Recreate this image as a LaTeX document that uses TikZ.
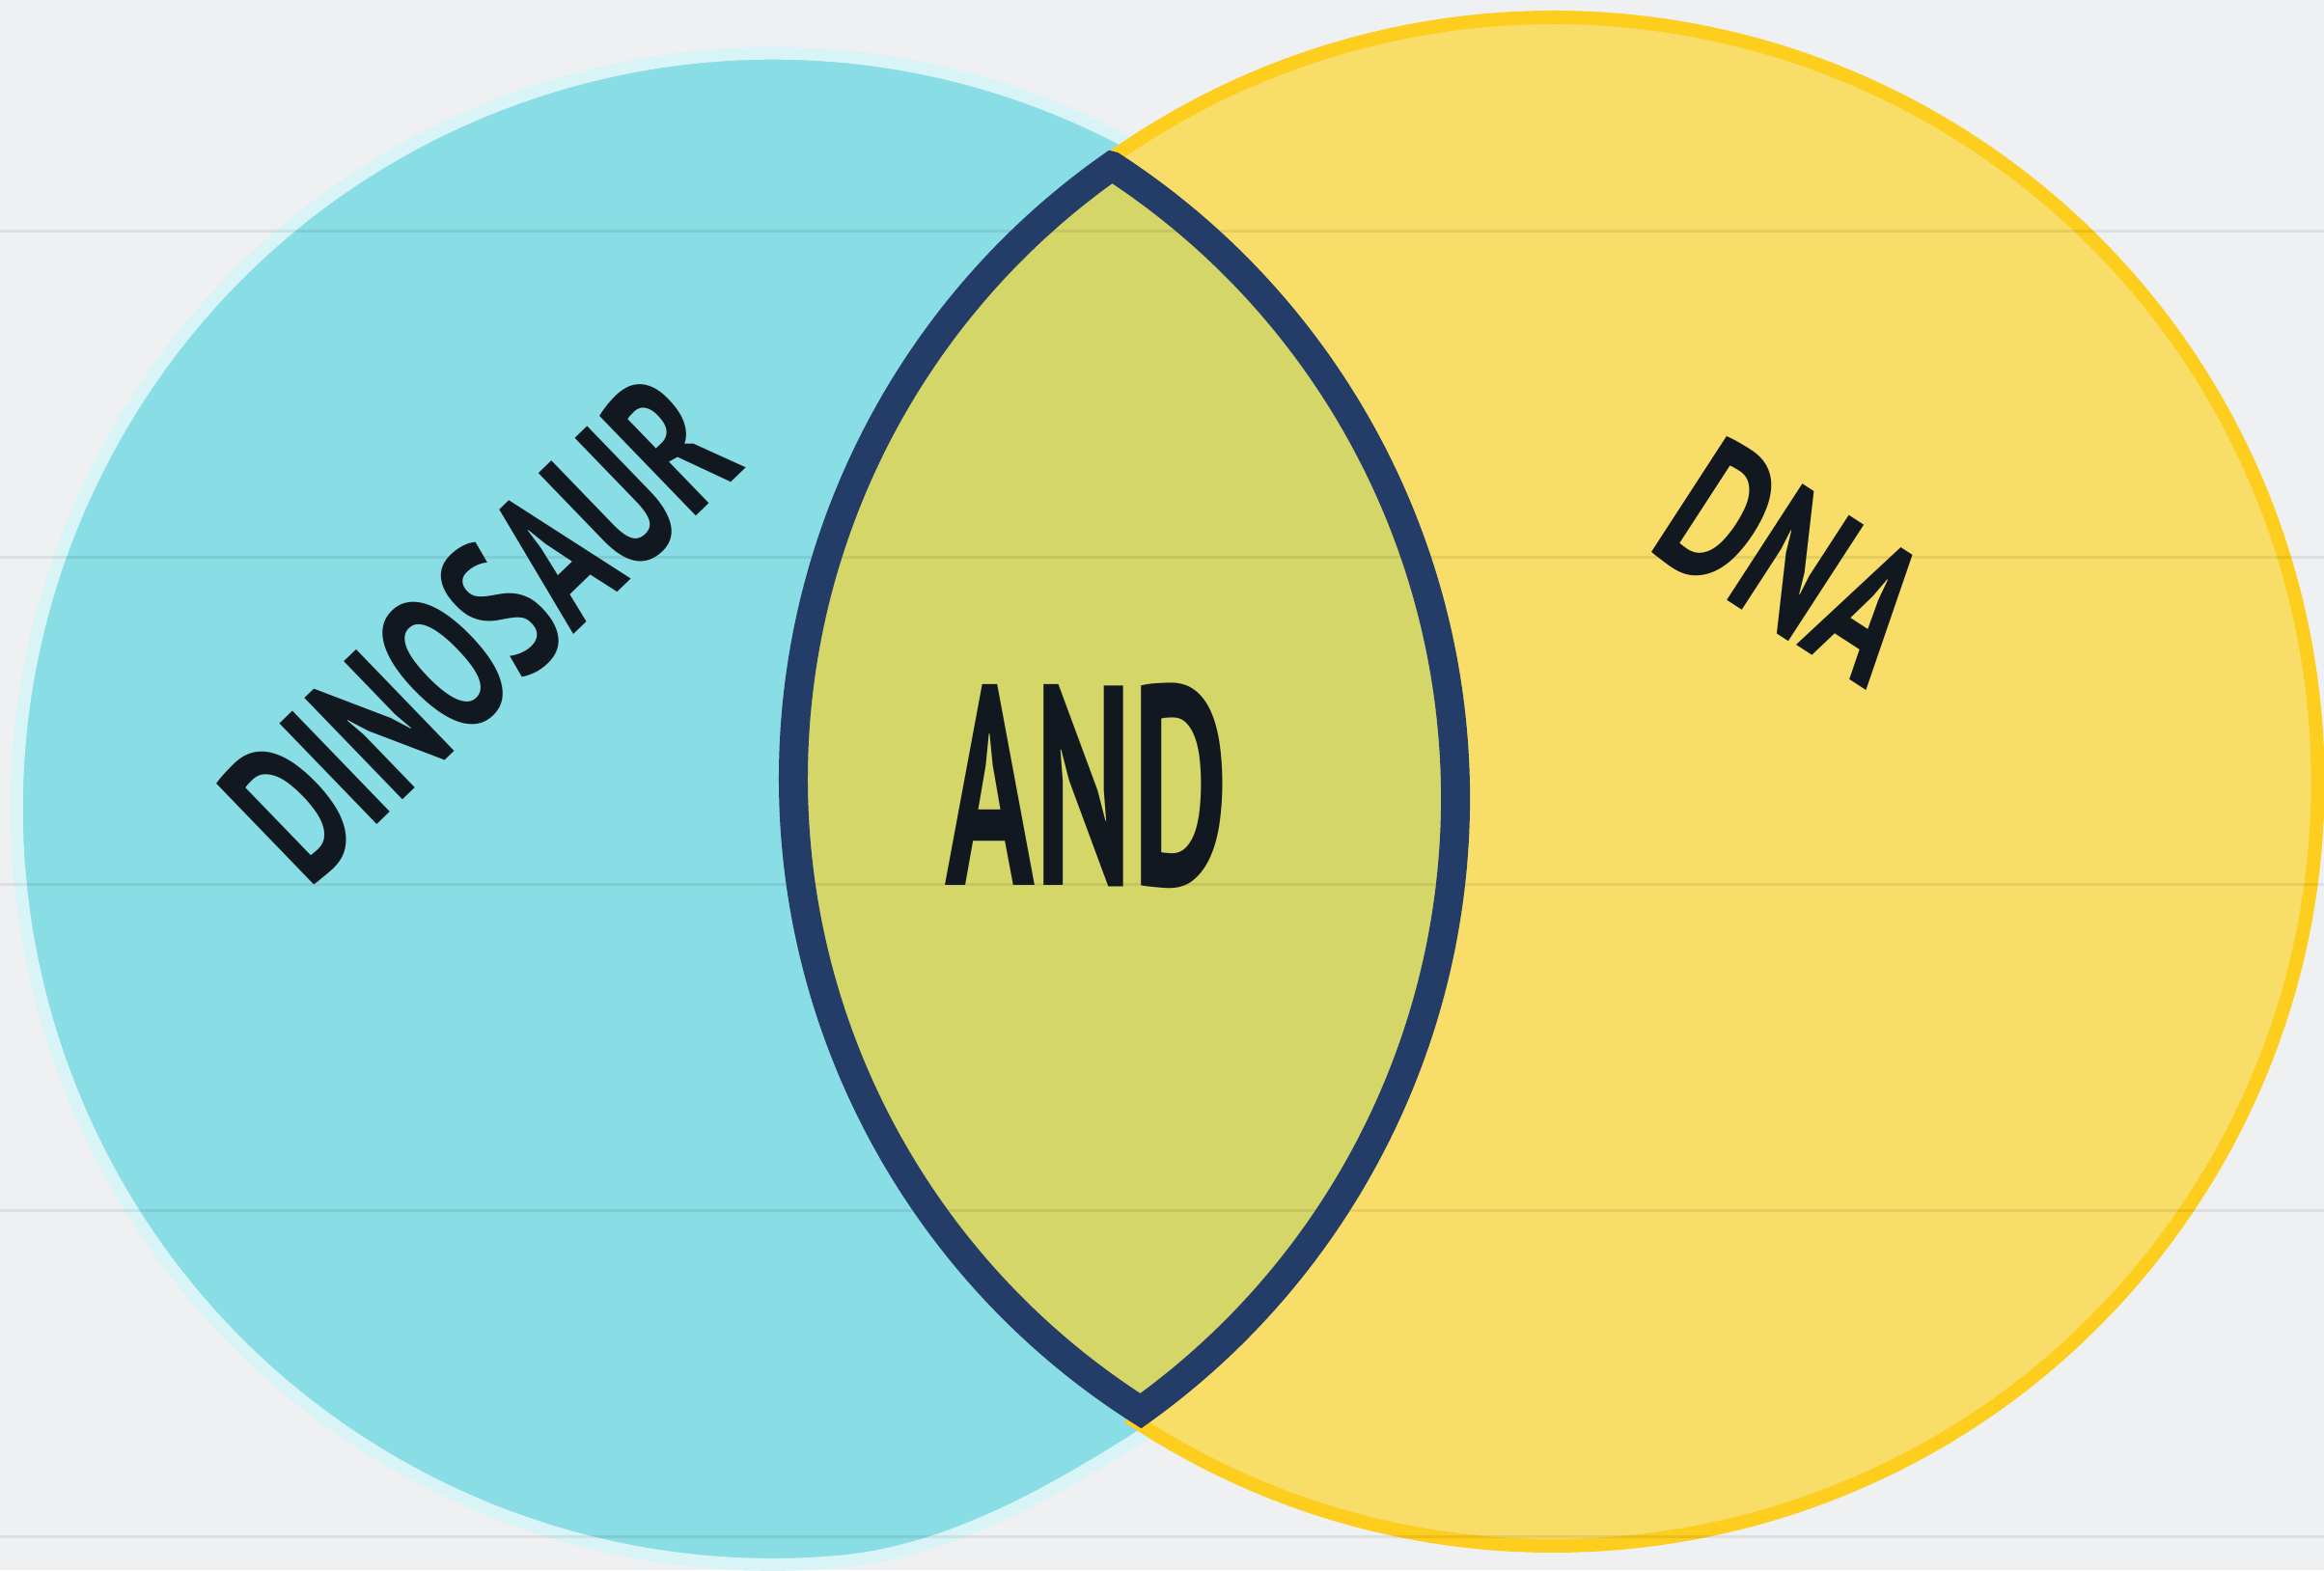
\documentclass[tikz,border=0pt]{standalone}
\usepackage{fontspec}
\setmainfont{PT Sans}
\usepackage{graphicx}
\definecolor{bgc}{HTML}{EEF0F2}
\definecolor{cyanfill}{HTML}{89DDE4}
\definecolor{cyanline}{HTML}{D8F4F7}
\definecolor{yelfill}{HTML}{F8DD68}
\definecolor{yelline}{HTML}{FDCE1E}
\definecolor{lensfill}{HTML}{D5D668}
\definecolor{navy}{HTML}{243C68}
\definecolor{ink}{HTML}{111820}
\tikzset{
  leftset/.style={fill=cyanfill, draw=cyanline, line width=0.13cm},
  rightset/.style={fill=yelfill, draw=yelline, line width=0.14cm},
  lensarea/.style={fill=lensfill},
  lensedge/.style={draw=navy, line width=0.30cm, line join=miter, miter limit=20},
  ruling/.style={draw=black, draw opacity=0.07, line width=0.03cm},
  label/.style={text=ink, inner sep=0pt, font=\bfseries}
}
\begin{document}
\begin{tikzpicture}
\useasboundingbox (0,0) rectangle (24.08,16.27);
\clip (0,0) rectangle (24.08,16.27);
\fill[bgc] (0,0) rectangle (24.08,16.27);
% left set (cyan)
\path[leftset] (11.68,14.80) arc[start angle=62, end angle=275, radius=7.83]
  .. controls (9.88,0.19) and (11.00,0.87) .. (11.84,1.40)
  -- (15.00,8.00) -- cycle;
% right set (yellow)
\path[rightset] (11.52,14.55) arc[start angle=125.08, end angle=237.58, radius=7.76]
  -- (11.75,1.55) arc[start angle=236.72, end angle=485.67, radius=7.92] -- cycle;
% intersection fill
\path[lensarea] (11.52,14.55) arc[start angle=125.08, end angle=237.58, radius=7.76]
  arc[start angle=-54.38, end angle=57.02, radius=7.81] -- cycle;
% notebook ruling
\foreach \yy in {13.87,10.49,7.11,3.73,0.35}
  \path[ruling] (0,\yy) -- (24.08,\yy);
% intersection outline
\path[lensedge] (11.52,14.55) arc[start angle=125.08, end angle=237.58, radius=7.76]
  arc[start angle=-54.38, end angle=57.02, radius=7.81] -- cycle;
% labels
\node[label, rotate=44] (dino) at (4.97,9.76)
  {\scalebox{0.66}[1]{\fontsize{59}{62}\selectfont DINOSAUR}};
\node[label] (and) at (11.26,8.13)
  {\scalebox{0.52}[1]{\fontsize{84}{90}\selectfont AND}};
\node[label, rotate=-33] (dna) at (18.58,10.45)
  {\scalebox{0.70}[1]{\fontsize{58}{60}\selectfont DNA}};
\end{tikzpicture}
\end{document}
